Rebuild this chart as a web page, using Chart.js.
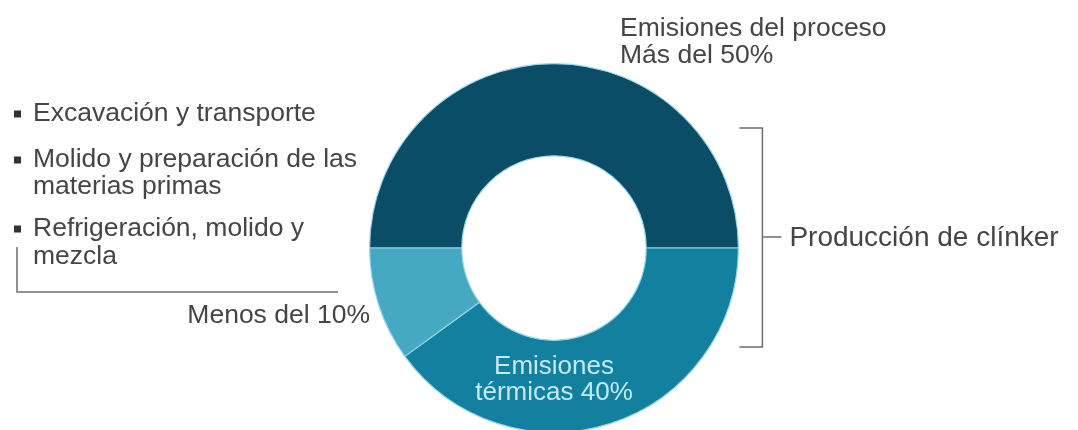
<!DOCTYPE html>
<html>
<head>
<meta charset="utf-8">
<script src="https://cdn.jsdelivr.net/npm/chart.js@4/dist/chart.umd.min.js"></script>
<style>
html,body{margin:0;padding:0;background:#fff;overflow:hidden;width:1078px;height:430px;}
canvas{display:block;}
</style>
</head>
<body>
<canvas id="c" width="1078" height="440"></canvas>
<script>
const categories = ['Emisiones del proceso', 'Emisiones térmicas', 'Excavación, molido y refrigeración'];
const values = [50, 40, 10];
const colors = ['#0b4d67', '#14809f', '#45a9c3'];

const topLabel = ['Emisiones del proceso', 'Más del 50%'];
const innerLabel = ['Emisiones', 'térmicas 40%'];
const bulletItems = [['Excavación y transporte'], ['Molido y preparación de las', 'materias primas'], ['Refrigeración, molido y', 'mezcla']];
const smallLabel = 'Menos del 10%';
const bracketLabel = 'Producción de clínker';

const FONT = '"Liberation Sans", Arial, Helvetica, sans-serif';
const TXT = '#454545';
const LINE = '#6e6e6e';

const annotations = {
  id: 'annotations',
  afterDraw(chart) {
    const ctx = chart.ctx;
    const arc = chart.getDatasetMeta(0).data[0];
    const cx = arc.x, cy = arc.y, R = arc.outerRadius;
    ctx.save();
    ctx.textBaseline = 'middle';
    // top label
    ctx.fillStyle = TXT;
    ctx.font = '26.5px ' + FONT;
    ctx.textAlign = 'left';
    ctx.fillText(topLabel[0], cx + 66, cy - 219);
    ctx.fillText(topLabel[1], cx + 66, cy - 192);
    // bullets
    const ys = [[114], [160, 187], [229, 257]];
    bulletItems.forEach((item, i) => {
      ctx.fillStyle = '#333';
      ctx.fillRect(14, ys[i][0] - 3.5, 7, 7);
      ctx.fillStyle = TXT;
      item.forEach((t, j) => ctx.fillText(t, 33, ys[i][j]));
    });
    // left bracket
    ctx.strokeStyle = LINE;
    ctx.lineWidth = 1.5;
    ctx.beginPath();
    ctx.moveTo(17, 247);
    ctx.lineTo(17, 292);
    ctx.lineTo(338, 292);
    ctx.stroke();
    // small label
    ctx.textAlign = 'right';
    ctx.fillText(smallLabel, 370, 316);
    // right bracket
    const bx = cx + R + 24;
    ctx.beginPath();
    ctx.moveTo(bx - 23, cy - 120);
    ctx.lineTo(bx, cy - 120);
    ctx.lineTo(bx, cy + 99);
    ctx.lineTo(bx - 23, cy + 99);
    ctx.moveTo(bx, cy - 11);
    ctx.lineTo(bx + 19, cy - 11);
    ctx.stroke();
    ctx.textAlign = 'left';
    ctx.font = '28px ' + FONT;
    ctx.fillText(bracketLabel, bx + 27, cy - 10);
    // inner label
    ctx.fillStyle = '#c3eaf4';
    ctx.font = '26px ' + FONT;
    ctx.textAlign = 'center';
    ctx.fillText(innerLabel[0], cx, cy + 119);
    ctx.fillText(innerLabel[1], cx, cy + 145);
    ctx.restore();
  }
};

new Chart(document.getElementById('c'), {
  type: 'doughnut',
  data: {
    labels: categories,
    datasets: [{
      data: values,
      backgroundColor: colors,
      borderColor: '#9ad6e6',
      borderWidth: 1.2
    }]
  },
  options: {
    responsive: false,
    animation: false,
    rotation: -90,
    cutout: '50%',
    layout: { padding: { left: 369, right: 339, top: 63, bottom: 7 } },
    plugins: { legend: { display: false }, tooltip: { enabled: false } }
  },
  plugins: [annotations]
});
</script>
</body>
</html>
